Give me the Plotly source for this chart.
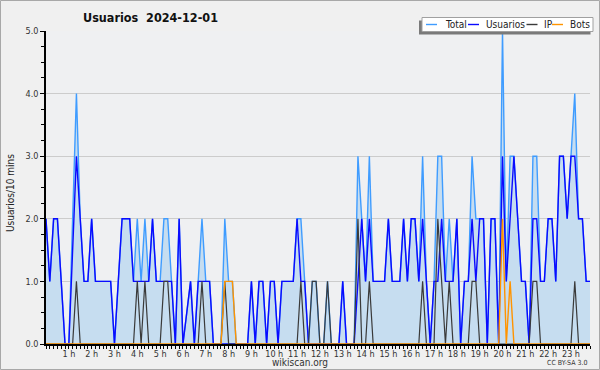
import plotly.graph_objects as go

# ---- data (10-minute slots, index 0 = 0:00) ----
usuarios = [2,1,2,2,1,0,0,1.5,3,2,
            1,1,2,1,1,1,1,1,0,1,
            2,2,2,1,1,1,1,1,2,1,
            1,1,1,1,0,2,0,0.5,1,0,
            1,1,1,1,0,0,0,0,0,0,
            0,0,0,0,1,0,1,1,0,1,
            1,0,1,1,1,1,2,1,1,0,
            0,0,0,0,0,0,0,0,1,0,
            0,0,1,2,1,2,1,1,1,1,
            2,1,1,1,2,1,2,2,1,2,
            1,0,1,1,2,1,1,1,2,0,
            1,1,2,1,2,2,0,2,2,0,
            3,1,2,3,2,1,1,0,2,2,
            1,1,2,2,1,3,3,2,3,3,
            2,2,1,1]
ip = [0,0,0,0,0,0,0,0,1,0,
      0,0,0,0,0,0,0,0,0,0,
      0,0,0,0,1,0,1,0,0,0,
      0,1,1,0,0,0,0,0,0,0,
      0,1,0,0,0,0,0,1,0,0,
      0,0,0,0,0,0,0,0,0,0,
      0,0,0,0,0,0,0,1,0,0,
      1,1,0,0,1,0,0,0,0,0,
      0,0,2,0,0,1,0,0,0,0,
      0,0,0,0,0,0,0,0,0,1,
      0,0,0,2,1,0,1,0,0,0,
      0,0,1,1,0,0,0,0,0,0,
      0,0,0,0,0,0,0,0,1,1,
      0,0,0,0,0,0,0,0,0,1,
      0,0,0,0]
bots = [0]*47 + [1,1,1] + [0]*70 + [2,0,1] + [0]*21
total = [2,1,2,2,1,0,0,2,4,2,
         1,1,2,1,1,1,1,1,0,1,
         2,2,2,1,2,1,2,1,2,1,
         1,2,2,1,0,2,0,0.5,1,0,
         1,2,1,1,0,0,0,2,1,1,
         0,0,0,0,1,0,1,1,0,1,
         1,0,1,1,1,1,2,2,1,0,
         1,1,0,0,1,0,0,0,1,0,
         0,0,3,2,1,3,1,1,1,1,
         2,1,1,1,2,1,2,2,1,3,
         1,0,1,3,3,1,2,1,2,0,
         1,1,3,2,2,2,0,2,2,0,
         5,1,3,3,2,1,1,0,3,3,
         1,1,2,2,1,3,3,2,3,4,
         2,2,1,1]
slots = list(range(len(total)))
hours = list(range(1, 24))
hour_labels = [f"{h} h" for h in hours]
y_ticks = [0, 1, 2, 3, 4, 5]
y_labels = ["0.0", "1.0", "2.0", "3.0", "4.0", "5.0"]

W, H = 600, 370
L, R, T, B = 46, 10, 31, 26
PW, PH = W - L - R, H - T - B

def px(x):
    return (x - L) / PW

def py(y):
    return (H - B - y) / PH

FONT = "DejaVu Sans Condensed, DejaVu Sans, sans-serif"

fig = go.Figure()
fig.add_trace(go.Scatter(x=slots, y=total, mode="lines", name="Total",
                         line=dict(color="#3f9cff", width=1.4),
                         fill="tozeroy", fillcolor="#c6ddf0"))
fig.add_trace(go.Scatter(x=slots, y=usuarios, mode="lines", name="Usuarios",
                         line=dict(color="#0a0aff", width=1.4)))
fig.add_trace(go.Scatter(x=slots, y=ip, mode="lines", name="IP",
                         line=dict(color="#3a3a3a", width=1.2)))
fig.add_trace(go.Scatter(x=slots, y=bots, mode="lines", name="Bots",
                         line=dict(color="#ff9400", width=1.4)))

fig.update_layout(
    width=W, height=H,
    margin=dict(l=L, r=R, t=T, b=B, pad=0),
    paper_bgcolor="#f0f0f0", plot_bgcolor="#eff0f2",
    showlegend=False,
    font=dict(family=FONT, size=9, color="#333333"),
)
fig.update_xaxes(
    range=[0, len(total) - 1], showgrid=False, zeroline=False,
    showline=True, linecolor="#000000", linewidth=1.5,
    tickmode="array", tickvals=[6 * h for h in hours], ticktext=hour_labels,
    ticks="outside", ticklen=3, tickcolor="#000000", tickwidth=1,
    ticklabelstandoff=-3,
    tickfont=dict(family=FONT, size=9, color="#333333"),
    minor=dict(dtick=1, tick0=0, ticks="outside", ticklen=3, tickcolor="#000000", showgrid=False),
)
fig.update_yaxes(
    range=[0, 5], showgrid=True, gridcolor="#cccccc", gridwidth=1, zeroline=False,
    showline=True, linecolor="#000000", linewidth=1.5,
    tickmode="array", tickvals=y_ticks, ticktext=y_labels,
    ticks="outside", ticklen=4, tickcolor="#000000",
    tickfont=dict(family=FONT, size=9, color="#333333"),
    minor=dict(dtick=0.25, tick0=0, ticks="outside", ticklen=3, tickcolor="#000000", showgrid=False),
)

shapes = []
# outer frame
shapes.append(dict(type="rect", xref="paper", yref="paper",
                   x0=px(0.5), x1=px(W - 0.5), y0=py(0.5), y1=py(H - 0.5),
                   line=dict(color="#a8a8a8", width=1), layer="above"))
# legend shadow and box
shapes.append(dict(type="rect", xref="paper", yref="paper",
                   x0=px(419), x1=px(590.5), y0=py(20.5), y1=py(34.5),
                   fillcolor="#7a7a7a", line=dict(width=0), layer="above"))
shapes.append(dict(type="rect", xref="paper", yref="paper",
                   x0=px(422), x1=px(593), y0=py(17.5), y1=py(31.5),
                   fillcolor="#ffffff", line=dict(color="#a0a0a0", width=1), layer="above"))
legend_items = [("Total", "#3f9cff", 426, 442.5), ("Usuarios", "#0a0aff", 468, 484),
                ("IP", "#3a3a3a", 526.5, 542), ("Bots", "#ff9400", 552, 567.5)]
annotations = []
for name, col, lx, tx in legend_items:
    shapes.append(dict(type="line", xref="paper", yref="paper",
                       x0=px(lx), x1=px(lx + 11), y0=py(24.5), y1=py(24.5),
                       line=dict(color=col, width=1.4), layer="above"))
    annotations.append(dict(text=name, xref="paper", yref="paper", x=px(tx), y=py(24.5),
                            xanchor="left", yanchor="middle", showarrow=False,
                            font=dict(family=FONT, size=10, color="#222222")))
annotations += [
    dict(text="<b>Usuarios  2024-12-01</b>", xref="paper", yref="paper",
         x=px(150.5), y=py(17), xanchor="center", yanchor="middle", showarrow=False,
         font=dict(family=FONT, size=12.5, color="#111111")),
    dict(text="Usuarios/10 mins", xref="paper", yref="paper",
         x=px(10), y=py(193), xanchor="center", yanchor="middle", showarrow=False,
         textangle=-90, font=dict(family=FONT, size=10, color="#222222")),
    dict(text="wikiscan.org", xref="paper", yref="paper",
         x=px(300), y=py(362.5), xanchor="center", yanchor="middle", showarrow=False,
         font=dict(family=FONT, size=10, color="#333333")),
    dict(text="CC BY-SA 3.0", xref="paper", yref="paper",
         x=px(589), y=py(363), xanchor="right", yanchor="middle", showarrow=False,
         font=dict(family=FONT, size=7, color="#333333")),
]
fig.update_layout(shapes=shapes, annotations=annotations)
fig.write_html("out.html")
